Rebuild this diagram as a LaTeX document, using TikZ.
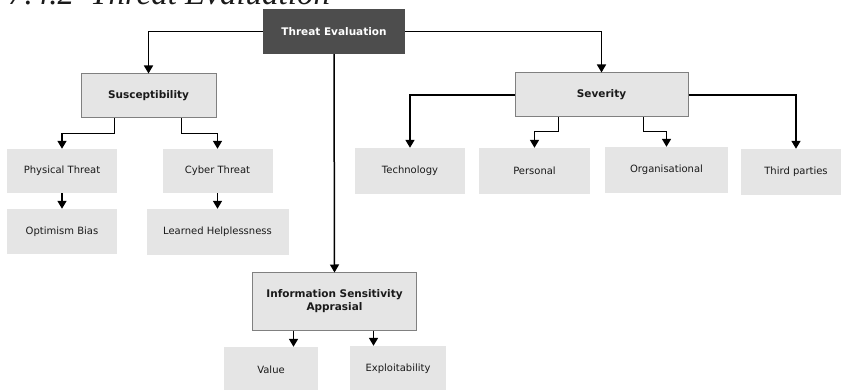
\documentclass[tikz,border=0pt]{standalone}
\usepackage{fontspec}
\setmainfont{DejaVu Sans}
\newfontfamily\headfont{Liberation Serif}
\usetikzlibrary{arrows.meta,calc}
\definecolor{darkbox}{HTML}{4D4D4D}
\definecolor{lightbox}{HTML}{E5E5E5}
\definecolor{boxline}{HTML}{808080}
\definecolor{txt}{HTML}{1A1A1A}
\tikzset{
  plain/.style={fill=lightbox,draw=none,inner sep=0pt,text=txt,font=\fontsize{10}{12}\selectfont,align=center},
  mainbox/.style={fill=lightbox,draw=boxline,line width=1pt,inner sep=0pt,text=txt,font=\bfseries\fontsize{10.5}{13}\selectfont,align=center},
  topbox/.style={fill=darkbox,draw=none,inner sep=0pt,text=white,font=\bfseries\fontsize{10.5}{12}\selectfont},
  arr/.style={line width=1.5pt,-{Triangle[width=9pt,length=8pt]}},
  ln/.style={line width=1.5pt}
}
\begin{document}
\begin{tikzpicture}[x=1pt,y=-1pt]
\useasboundingbox (0,0) rectangle (841,390);
\node[anchor=base west,font=\headfont\itshape\fontsize{33}{33}\selectfont,text=txt,inner sep=0pt] (head) at (8,5) {7.4.2\hspace{16pt}Threat Evaluation};
\node[topbox,minimum width=142pt,minimum height=45pt] (te) at (334,31.5) {Threat Evaluation};
\node[mainbox,minimum width=135pt,minimum height=44pt] (su) at (148.5,96) {Susceptibility};
\node[mainbox,minimum width=173pt,minimum height=44pt] (sv) at (601.5,95) {Severity};
\node[mainbox,minimum width=164pt,minimum height=57pt] (isa) at (334.5,301.5) {Information Sensitivity\\Apprasial};
\node[plain,minimum width=110pt,minimum height=44pt] (ph) at (62,171) {Physical Threat};
\node[plain,minimum width=110pt,minimum height=45pt] (op) at (62,231.5) {Optimism Bias};
\node[plain,minimum width=110pt,minimum height=44pt] (cy) at (217.5,171) {Cyber Threat};
\node[plain,minimum width=142pt,minimum height=46pt] (lh) at (217.5,232) {Learned Helplessness};
\node[plain,minimum width=110pt,minimum height=46pt] (tc) at (410,171) {Technology};
\node[plain,minimum width=111pt,minimum height=46pt] (pe) at (534.5,171) {Personal};
\node[plain,minimum width=123pt,minimum height=46pt] (or) at (666.5,170) {Organisational};
\node[plain,minimum width=110pt,minimum height=46pt] (tp) at (796,172) {Third parties};
\node[plain,minimum width=94pt,minimum height=46pt] (va) at (271,370) {Value};
\node[plain,minimum width=96pt,minimum height=46pt] (ex) at (398,369) {Exploitability};
% top level
\draw[arr] (te.west) -| (su.north);
\draw[arr] (te.east) -| (sv.north);
\draw[arr] (te.south) -- (isa.north);
% susceptibility
\draw[arr] ([xshift=34pt]su.south west) -- ++(0,15) -| (ph.north);
\draw[arr] ([xshift=101pt]su.south west) -- ++(0,15) -| (cy.north);
\draw[arr] (ph.south) -- (op.north);
\draw[arr] (cy.south) -- (lh.north);
% severity
\draw[arr] (sv.west) -| (tc.north);
\draw[arr] (sv.east) -| (tp.north);
\draw[arr] ([xshift=44pt]sv.south west) -- ++(0,14) -| (pe.north);
\draw[arr] ([xshift=129pt]sv.south west) -- ++(0,14) -| (or.north);
% information sensitivity
\draw[arr] ([xshift=41.5pt]isa.south west) -- ([xshift=41.5pt]isa.south west |- va.north);
\draw[arr] ([xshift=121.5pt]isa.south west) -- ([xshift=121.5pt]isa.south west |- ex.north);
\end{tikzpicture}
\end{document}
